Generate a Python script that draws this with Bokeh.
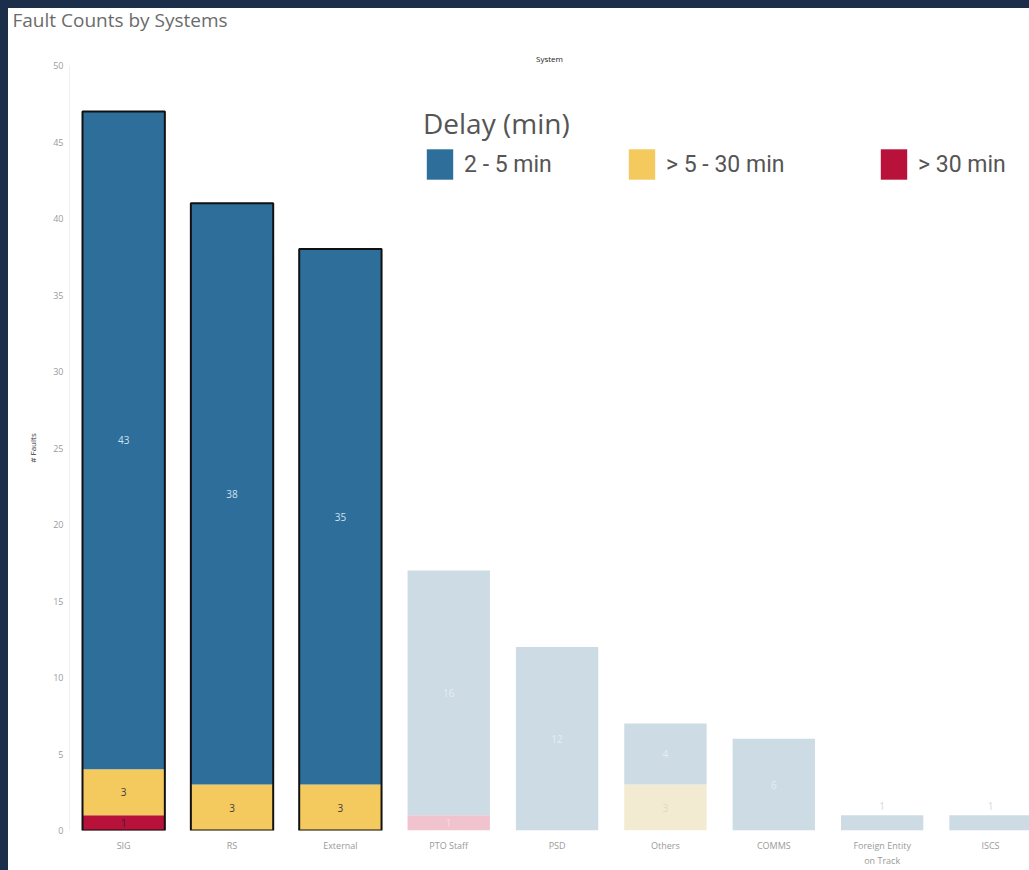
import numpy as np
from bokeh.plotting import figure
from bokeh.models import (ColumnDataSource, Range1d, FixedTicker,
                          Legend, LegendItem, Label)
from bokeh.layouts import column
from bokeh.embed import file_html
from bokeh.resources import INLINE
from bokeh.core.properties import value

# ---------------- data ----------------
systems = ["SIG", "RS", "External", "PTO Staff", "PSD", "Others", "COMMS",
           "Foreign Entity\non Track", "ISCS"]
delay_2_5 = [43, 38, 35, 16, 12, 4, 6, 1, 1]
delay_5_30 = [3, 3, 3, 0, 0, 3, 0, 0, 0]
delay_30 = [1, 0, 0, 1, 0, 0, 0, 0, 0]
highlighted = ["SIG", "RS", "External"]
legend_labels = ["2 - 5 min", "> 5 - 30 min", "> 30 min"]
y_ticks = [0, 5, 10, 15, 20, 25, 30, 35, 40, 45, 50]
title_text = "Fault Counts by Systems"
x_title = "System"
y_title = "# Faults"
legend_title = "Delay (min)"

# ---------------- styles ----------------
NAVY = "#1b2f4b"
full_colors = ["#2e6e9b", "#f4c95d", "#b8123b"]      # 2-5, 5-30, >30
faded_colors = ["#cddbe4", "#f3ead2", "#f1c3ce"]
full_label = ["#cfe2f1", "#3d3d3d", "#2a2a2a"]
faded_label = ["#e6edf2", "#e2d9bd", "#f7dde3"]
FONT = "Open Sans"
BAR_W = 0.76
TOP_H = 44

n = len(systems)
xs = np.arange(n)
is_hl = np.array([s in highlighted for s in systems])

# ---------------- header strip (chart title) ----------------
head = figure(width=1021, height=TOP_H, x_range=Range1d(0, 1), y_range=Range1d(0, 1),
              x_axis_type=None, y_axis_type=None,
              output_backend="svg", toolbar_location=None,
              min_border_left=0, min_border_right=0,
              min_border_top=0, min_border_bottom=0,
              background_fill_color="white", border_fill_color="white",
              outline_line_color=None)
head.frame_align = False
head.margin = (8, 0, 0, 8)
head.styles = {"background-color": "white"}
head.add_layout(Label(x=4, y=TOP_H - 11, x_units="screen", y_units="screen",
                      text=title_text, text_font=FONT, text_font_size="19px",
                      text_color="#6b6b6b", text_align="left",
                      text_baseline="middle"))

# ---------------- main chart ----------------
p = figure(width=1021, height=870 - 8 - TOP_H,
           x_range=Range1d(-0.5, 8.36), y_range=Range1d(0, 50),
           output_backend="svg", toolbar_location=None,
           min_border_left=61, min_border_right=0,
           min_border_top=13, min_border_bottom=39,
           background_fill_color="white", border_fill_color="white",
           outline_line_color=None, title=x_title)
p.frame_align = False
p.margin = (0, 0, 0, 8)
p.styles = {"background-color": "white"}
p.xgrid.visible = False
p.ygrid.visible = False

# x-axis title "System" above the plot
p.title.text_font = FONT
p.title.text_font_size = "8px"
p.title.text_color = "#222222"
p.title.text_font_style = "normal"
p.title.align = "center"
p.title.offset = 8
p.title.standoff = 0
p.title.vertical_align = "top"

# stacked segments: bottom (>30) -> middle (5-30) -> top (2-5)
levels = [(np.array(delay_30, float), 2),
          (np.array(delay_5_30, float), 1),
          (np.array(delay_2_5, float), 0)]
totals = np.array(delay_2_5) + np.array(delay_5_30) + np.array(delay_30)

renderers = {}
bottom = np.zeros(n)
lab_x, lab_y, lab_t, lab_c = [], [], [], []
for vals, ci in levels:
    top = bottom + vals
    cols = [full_colors[ci] if h else faded_colors[ci] for h in is_hl]
    src = ColumnDataSource(dict(x=xs, bottom=bottom.copy(), top=top, color=cols))
    r = p.vbar(x="x", bottom="bottom", top="top", width=BAR_W, source=src,
               fill_color="color", line_color=None)
    renderers[ci] = r
    for i in range(n):
        if vals[i] <= 0:
            continue
        if totals[i] <= 1:
            y = top[i] + 0.6
            c = "#d5dbe0"
        else:
            y = (bottom[i] + top[i]) / 2
            c = full_label[ci] if is_hl[i] else faded_label[ci]
        lab_x.append(xs[i]); lab_y.append(y)
        lab_t.append(str(int(vals[i]))); lab_c.append(c)
    bottom = top

# outline of highlighted bars
hl_src = ColumnDataSource(dict(x=xs[is_hl], top=totals[is_hl]))
p.vbar(x="x", bottom=0, top="top", width=BAR_W, source=hl_src,
       fill_color=None, line_color="#111111", line_width=2)

lsrc = ColumnDataSource(dict(x=lab_x, y=lab_y, t=lab_t, c=lab_c))
p.text(x="x", y="y", text="t", text_color="c", source=lsrc,
       text_font=value(FONT), text_font_size="10px",
       text_align="center", text_baseline="middle")

# ---------------- axes ----------------
xa = p.xaxis[0]
xa.ticker = FixedTicker(ticks=list(range(n)))
xa.major_label_overrides = {i: s for i, s in enumerate(systems)}
xa.major_label_text_font = FONT
xa.major_label_text_font_size = "9px"
xa.major_label_text_color = "#9a9a9a"
xa.major_tick_line_color = None
xa.minor_tick_line_color = None
xa.major_tick_out = 0
xa.minor_tick_out = 0
xa.axis_line_color = None
xa.major_label_standoff = 8

ya = p.yaxis[0]
ya.ticker = FixedTicker(ticks=y_ticks)
ya.major_label_text_font = FONT
ya.major_label_text_font_size = "9px"
ya.major_label_text_color = "#9a9a9a"
ya.major_tick_line_color = None
ya.minor_tick_line_color = None
ya.major_tick_out = 0
ya.minor_tick_out = 0
ya.axis_line_color = "#f0f0f0"
ya.major_label_standoff = 6
ya.axis_label = y_title
ya.axis_label_text_font = FONT
ya.axis_label_text_font_size = "8px"
ya.axis_label_text_color = "#333333"
ya.axis_label_text_font_style = "normal"
ya.axis_label_standoff = 12

# ---------------- legend ----------------
leg_x = [354, 556, 808]
for k, (lbl, ci) in enumerate(zip(legend_labels, [0, 1, 2])):
    leg = Legend(items=[LegendItem(label=lbl, renderers=[renderers[ci]], index=0)],
                 location=(leg_x[k], 647), orientation="horizontal",
                 padding=0, margin=0, border_line_color=None,
                 background_fill_alpha=0,
                 glyph_width=33, glyph_height=38, label_standoff=8,
                 label_text_font="Roboto", label_text_font_size="23px",
                 label_text_color="#555555",
                 title=(legend_title if k == 0 else None),
                 title_text_font=FONT, title_text_font_size="28px",
                 title_text_color="#555555", title_text_font_style="normal",
                 title_standoff=3)
    p.add_layout(leg)

page = column(head, p, spacing=0, styles={"background-color": NAVY})
open("out.html", "w").write(file_html(page, INLINE))
